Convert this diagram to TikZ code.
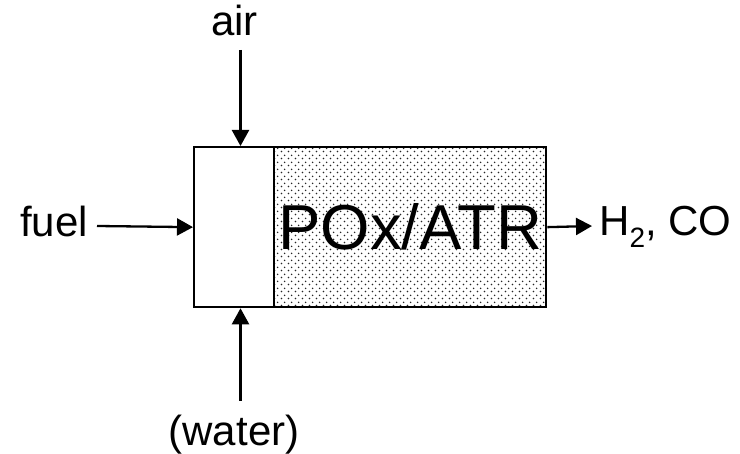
\documentclass[tikz,border=0pt]{standalone}
\usepackage{fontspec}
\setmainfont{Liberation Sans}
\usetikzlibrary{arrows.meta,patterns.meta}
\tikzdeclarepattern{
  name=rdots,
  type=uncolored,
  bounding box={(0pt,0pt) and (7pt,7pt)},
  tile size={(7pt,7pt)},
  code={
    \fill (1.75pt,1.75pt) circle (0.95pt);
    \fill (5.25pt,5.25pt) circle (0.95pt);
  }
}
\tikzset{
  lbl/.style={inner sep=0pt, font=\fontsize{42}{42}\selectfont},
  boxpart/.style={draw, line width=2.3pt, inner sep=0pt, minimum height=160pt, anchor=north west},
  flow/.style={line width=2.3pt, -{Triangle[length=16pt,width=17pt]}}
}
\begin{document}
\begin{tikzpicture}[x=1pt,y=-1pt]
\useasboundingbox (0,0) rectangle (740,454);
% reactor parts
\node[boxpart, minimum width=272pt, pattern=rdots, pattern color=black!85,
      font=\fontsize{63.5}{63.5}\selectfont] (reactor) at (273,146) {POx/ATR};
\node[boxpart, minimum width=80pt, fill=white] (mix) at (193,146) {};
% labels
\node[lbl, anchor=base] (air) at (234.5,36) {air};
\node[lbl, anchor=base west] (fuel) at (20,237) {fuel};
\node[lbl, anchor=base] (water) at (234,446) {(water)};
\node[lbl, anchor=base west] (prod) at (599,236) {H\raisebox{-12pt}{\fontsize{28}{28}\selectfont 2}, CO};
% connector ends
\coordinate (airs) at (240.5,50);
\coordinate (fuels) at (97,226);
\coordinate (waters) at (240.5,401);
\coordinate (prode) at (592,226);
% flows
\draw[flow] (airs) -- (airs |- mix.north);
\draw[flow] (fuels) -- (mix.west);
\draw[flow] (waters) -- (waters |- mix.south);
\draw[flow] (reactor.east) -- (prode);
\end{tikzpicture}
\end{document}
